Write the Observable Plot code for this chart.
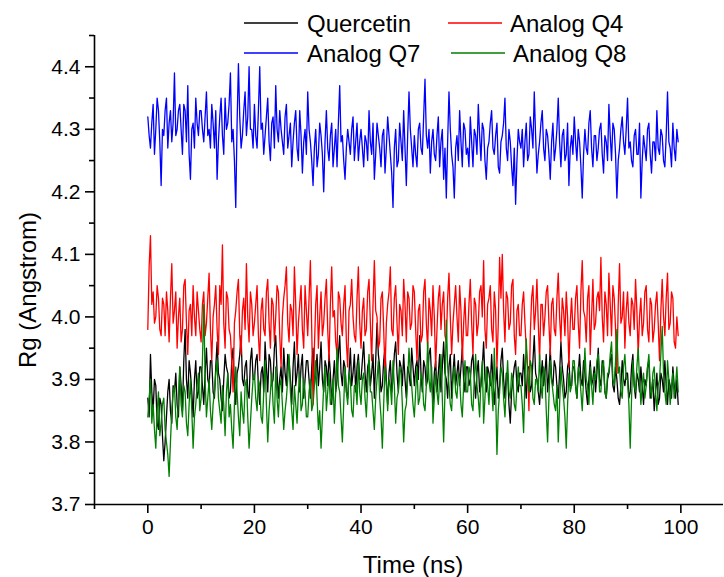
<!DOCTYPE html>
<html><head><meta charset="utf-8">
<script src="https://cdn.jsdelivr.net/npm/d3@7"></script>
<script src="https://cdn.jsdelivr.net/npm/@observablehq/plot@0.6"></script>
<style>
body{margin:0;background:#fff;} #chart{width:724px;height:577px;}
</style>
</head><body><div id="chart"></div>
<script>
const seriesNames = ["Quercetin", "Analog Q4", "Analog Q7", "Analog Q8"];
const seriesColors = ["#000000", "#ff0000", "#0000ff", "#008000"];
const timeStep = 0.25; // ns between samples

const quercetin = [
3.87,3.84,3.94,3.88,3.85,3.90,3.89,3.83,3.82,3.87,3.86,3.81,3.77,3.80,3.84,3.88,3.90,3.85,3.83,3.89,3.88,3.91,3.86,3.84,3.92,3.89,3.85,3.93,3.98,3.90,3.87,3.93,3.91,3.88,3.84,3.90,3.93,3.87,3.88,3.92,
3.92,3.89,3.86,3.91,3.95,3.90,3.89,3.93,3.93,3.88,3.87,3.92,3.96,3.91,3.90,3.87,3.85,3.90,3.94,3.92,3.91,3.87,3.88,3.93,3.95,3.89,3.86,3.91,3.92,3.94,3.97,3.90,3.89,3.92,3.93,3.88,3.87,3.93,3.95,3.90,
3.90,3.93,3.94,3.89,3.86,3.91,3.92,3.88,3.96,3.92,3.88,3.94,3.93,3.89,3.90,3.95,3.97,3.91,3.87,3.90,3.92,3.88,3.95,3.91,3.89,3.94,3.93,3.90,3.86,3.92,3.96,3.89,3.91,3.94,3.88,3.92,3.94,3.87,3.90,3.93,
3.93,3.90,3.87,3.92,3.95,3.89,3.91,3.94,3.89,3.92,3.96,3.90,3.88,3.93,3.92,3.89,3.94,3.91,3.86,3.90,3.93,3.88,3.90,3.94,3.97,3.91,3.89,3.93,3.92,3.88,3.87,3.91,3.95,3.89,3.91,3.94,3.88,3.92,3.94,3.90,
3.90,3.93,3.96,3.91,3.88,3.92,3.93,3.89,3.91,3.94,3.87,3.93,3.99,3.94,3.92,3.88,3.89,3.93,3.95,3.90,3.86,3.91,3.93,3.88,3.90,3.94,3.96,3.91,3.88,3.93,3.92,3.89,3.94,3.90,3.87,3.92,3.91,3.89,3.95,3.92,
3.89,3.92,3.93,3.90,3.97,3.91,3.88,3.93,3.92,3.89,3.90,3.94,3.95,3.90,3.86,3.91,3.93,3.88,3.91,3.94,3.88,3.92,3.96,3.91,3.90,3.87,3.92,3.94,3.87,3.91,3.94,3.89,3.91,3.93,3.89,3.92,3.95,3.90,3.88,3.92,
3.92,3.89,3.90,3.93,3.94,3.90,3.87,3.91,3.93,3.88,3.89,3.92,3.96,3.90,3.88,3.92,3.91,3.89,3.94,3.90,3.86,3.89,3.92,3.87,3.89,3.93,3.95,3.90,3.87,3.91,3.91,3.86,3.83,3.88,3.90,3.92,3.93,3.89,3.88,3.91,
3.91,3.89,3.94,3.90,3.87,3.92,3.92,3.88,3.89,3.93,3.97,3.91,3.90,3.88,3.86,3.90,3.93,3.89,3.91,3.94,3.88,3.91,3.95,3.90,3.89,3.93,3.92,3.89,3.87,3.91,3.96,3.92,3.90,3.87,3.88,3.92,3.93,3.89,3.89,3.92,
3.92,3.89,3.87,3.91,3.94,3.90,3.89,3.93,3.91,3.88,3.86,3.90,3.93,3.89,3.90,3.92,3.88,3.91,3.95,3.90,3.89,3.93,3.92,3.88,3.87,3.90,3.91,3.93,3.94,3.89,3.88,3.92,3.90,3.87,3.86,3.89,3.93,3.90,3.89,3.91,
3.91,3.87,3.88,3.92,3.94,3.89,3.87,3.91,3.90,3.88,3.92,3.89,3.86,3.90,3.89,3.92,3.93,3.87,3.88,3.90,3.85,3.88,3.91,3.86,3.87,3.91,3.90,3.88,3.93,3.89,3.86,3.90,3.89,3.87,3.92,3.89,3.87,3.90,3.86
];
const analogQ4 = [
3.98,4.08,4.13,4.02,4.04,3.99,4.00,4.05,4.03,3.98,3.97,4.03,4.02,3.97,4.04,4.01,3.96,4.03,4.085,3.99,4.01,4.04,3.95,4.00,4.03,3.96,3.98,4.05,4.06,3.99,3.94,4.01,4.02,3.97,4.05,4.00,3.97,4.04,4.01,3.98,
3.96,4.02,4.04,3.97,3.99,4.03,4.07,3.98,3.93,4.00,4.02,4.05,3.98,3.94,4.05,4.02,4.115,3.99,3.95,4.04,4.03,3.98,3.97,3.93,3.88,3.99,4.01,4.04,4.06,3.97,3.94,4.01,4.03,3.98,4.085,4.00,3.96,4.04,4.02,3.97,
3.99,4.02,4.05,3.97,3.93,4.01,4.03,3.98,3.97,4.04,4.06,3.99,3.95,4.03,4.02,3.96,4.00,4.05,4.04,3.97,3.92,4.00,4.03,4.05,4.08,3.99,3.96,4.02,4.01,3.97,4.08,4.02,3.94,3.99,4.02,4.05,3.98,3.95,4.05,4.01,
3.97,4.03,4.09,3.98,3.86,3.95,4.02,4.05,3.95,4.00,4.04,3.97,3.99,4.03,4.06,3.98,3.93,4.02,4.08,4.00,4.01,3.96,3.94,4.04,4.03,3.99,3.97,4.02,4.05,3.96,3.92,4.01,4.02,4.06,4.00,3.97,3.96,4.03,4.08,3.99,
3.95,4.01,4.03,3.97,3.98,4.04,4.06,3.99,3.93,4.02,4.09,4.01,4.00,3.95,3.96,4.03,4.04,3.98,3.91,3.99,4.02,4.04,4.08,3.98,3.97,4.03,4.05,3.99,3.94,4.02,4.01,3.97,4.06,4.02,3.96,4.04,4.03,3.98,3.99,4.05,
4.04,3.98,3.93,4.01,4.02,3.96,3.97,4.04,4.06,3.99,3.95,4.03,4.01,3.97,4.05,4.00,3.92,3.98,4.03,4.05,3.98,4.02,4.04,3.97,3.96,4.03,4.07,4.00,3.94,3.99,4.02,4.05,4.00,3.96,4.05,4.01,3.93,3.99,4.03,3.97,
3.97,4.02,4.06,3.99,3.94,4.03,4.02,3.97,3.99,4.04,4.05,4.00,4.09,3.98,3.95,4.02,4.03,4.05,3.98,3.96,4.04,4.01,3.92,3.99,4.095,4.03,4.10,4.01,3.96,4.04,4.03,3.98,3.99,4.05,4.06,3.97,3.94,4.01,4.02,3.97,
3.97,4.02,4.04,3.99,3.95,3.92,3.85,3.97,4.03,4.05,3.98,4.01,4.06,3.99,3.93,4.02,4.02,3.97,4.00,4.04,4.05,3.99,3.94,4.02,4.03,3.98,3.97,4.03,4.07,4.00,3.96,4.03,4.01,3.97,4.04,4.00,3.92,3.99,4.03,3.98,
3.98,4.03,4.05,3.99,3.95,4.04,4.09,4.01,4.00,3.96,4.03,4.05,3.94,4.00,4.06,3.98,3.99,4.03,4.04,4.01,4.095,4.00,3.96,4.04,4.02,3.97,4.07,4.02,3.97,4.05,4.03,3.98,3.91,4.02,4.085,3.99,4.00,4.04,3.95,4.01,
4.04,3.99,3.97,4.03,4.02,3.98,4.06,4.01,3.94,4.00,4.03,3.97,3.99,4.04,4.05,3.98,3.96,4.03,4.02,3.96,3.98,4.02,4.04,3.99,3.93,4.01,4.06,4.00,3.97,4.03,4.07,3.98,3.99,4.04,4.03,3.96,3.95,4.00,3.97
];
const analogQ7 = [
4.32,4.29,4.27,4.31,4.34,4.26,4.30,4.35,4.33,4.28,4.21,4.30,4.29,4.33,4.35,4.27,4.31,4.33,4.28,4.31,4.39,4.29,4.30,4.33,4.34,4.30,4.26,4.34,4.33,4.28,4.37,4.26,4.22,4.30,4.31,4.27,4.35,4.31,4.29,4.33,
4.33,4.30,4.28,4.32,4.36,4.29,4.30,4.27,4.34,4.31,4.27,4.33,4.22,4.28,4.32,4.35,4.29,4.26,4.35,4.30,4.31,4.34,4.39,4.28,4.30,4.25,4.175,4.31,4.405,4.32,4.27,4.29,4.33,4.36,4.29,4.32,4.40,4.30,4.30,4.27,
4.34,4.29,4.27,4.33,4.40,4.30,4.31,4.26,4.29,4.32,4.35,4.28,4.25,4.31,4.32,4.27,4.37,4.30,4.28,4.33,4.30,4.28,4.26,4.32,4.34,4.27,4.29,4.31,4.24,4.28,4.31,4.33,4.27,4.25,4.33,4.29,4.23,4.28,4.30,4.26,
4.36,4.30,4.28,4.25,4.21,4.27,4.30,4.24,4.26,4.31,4.29,4.26,4.20,4.28,4.33,4.27,4.25,4.29,4.31,4.24,4.27,4.30,4.24,4.31,4.37,4.28,4.29,4.25,4.22,4.27,4.30,4.28,4.26,4.30,4.32,4.25,4.28,4.31,4.25,4.28,
4.30,4.27,4.24,4.29,4.28,4.25,4.33,4.28,4.26,4.31,4.22,4.26,4.31,4.29,4.27,4.24,4.29,4.30,4.23,4.27,4.32,4.29,4.26,4.23,4.175,4.27,4.30,4.24,4.25,4.31,4.28,4.25,4.33,4.27,4.21,4.29,4.36,4.30,4.27,4.24,
4.29,4.26,4.24,4.30,4.31,4.27,4.26,4.32,4.38,4.29,4.27,4.30,4.23,4.28,4.30,4.26,4.25,4.29,4.32,4.24,4.28,4.30,4.22,4.27,4.19,4.28,4.36,4.30,4.26,4.24,4.19,4.27,4.29,4.25,4.33,4.28,4.24,4.31,4.30,4.26,
4.27,4.24,4.32,4.28,4.24,4.30,4.29,4.26,4.34,4.29,4.25,4.31,4.30,4.25,4.22,4.27,4.28,4.31,4.33,4.27,4.26,4.29,4.31,4.24,4.23,4.28,4.29,4.31,4.35,4.27,4.25,4.30,4.28,4.24,4.21,4.27,4.18,4.25,4.30,4.28,
4.27,4.30,4.24,4.28,4.31,4.25,4.26,4.32,4.30,4.27,4.36,4.29,4.23,4.26,4.28,4.31,4.33,4.27,4.25,4.30,4.29,4.26,4.22,4.28,4.31,4.25,4.27,4.30,4.35,4.28,4.24,4.29,4.30,4.25,4.26,4.31,4.21,4.27,4.29,4.26,
4.32,4.28,4.25,4.30,4.28,4.24,4.19,4.26,4.30,4.27,4.26,4.31,4.33,4.27,4.24,4.29,4.29,4.25,4.27,4.30,4.31,4.26,4.23,4.29,4.28,4.25,4.34,4.29,4.25,4.31,4.30,4.26,4.19,4.25,4.27,4.30,4.32,4.28,4.26,4.30,
4.35,4.27,4.28,4.25,4.24,4.29,4.30,4.26,4.26,4.31,4.19,4.25,4.29,4.27,4.25,4.30,4.31,4.26,4.23,4.28,4.28,4.25,4.33,4.27,4.26,4.30,4.29,4.25,4.24,4.29,4.36,4.28,4.27,4.24,4.31,4.27,4.25,4.30,4.28
];
const analogQ8 = [
3.84,3.87,3.90,3.83,3.86,3.82,3.79,3.85,3.88,3.81,3.83,3.86,3.87,3.82,3.80,3.78,3.745,3.80,3.85,3.88,3.89,3.84,3.82,3.87,3.92,3.86,3.84,3.89,3.88,3.83,3.81,3.86,3.90,3.85,3.79,3.84,3.86,3.89,3.91,3.85,
3.87,3.93,4.02,3.90,3.84,3.87,3.90,3.85,3.82,3.86,3.88,3.91,3.93,3.87,3.85,3.83,3.89,3.86,3.81,3.88,3.91,3.84,3.86,3.82,3.79,3.86,3.92,3.88,3.84,3.81,3.88,3.85,3.83,3.89,3.90,3.84,3.79,3.83,3.87,3.90,
3.91,3.87,3.85,3.90,3.89,3.84,3.83,3.88,3.93,3.86,3.80,3.85,3.88,3.91,3.86,3.83,3.92,3.87,3.84,3.89,3.90,3.86,3.82,3.85,3.87,3.90,3.94,3.88,3.85,3.82,3.89,3.86,3.83,3.88,3.91,3.85,3.86,3.90,3.88,3.84,
3.84,3.88,3.90,3.85,3.86,3.89,3.93,3.87,3.82,3.85,3.79,3.84,3.89,3.92,3.85,3.88,3.91,3.86,3.87,3.90,3.83,3.88,3.95,3.89,3.88,3.84,3.80,3.86,3.92,3.88,3.86,3.91,3.90,3.85,3.84,3.89,3.89,3.86,3.93,3.88,
3.86,3.90,3.91,3.87,3.84,3.89,3.94,3.88,3.88,3.85,3.82,3.87,3.90,3.93,3.87,3.84,3.79,3.86,3.92,3.89,3.85,3.90,3.89,3.86,3.93,3.89,3.83,3.87,3.88,3.92,3.91,3.86,3.80,3.85,3.86,3.90,3.95,3.91,3.89,3.86,
3.84,3.88,3.92,3.86,3.87,3.91,3.90,3.86,3.85,3.89,3.96,3.90,3.88,3.92,3.83,3.87,3.91,3.88,3.86,3.90,3.94,3.87,3.80,3.88,3.995,3.92,3.89,3.86,3.85,3.90,3.92,3.88,3.87,3.91,3.90,3.86,3.84,3.89,3.93,3.88,
3.88,3.92,3.91,3.86,3.85,3.90,3.94,3.89,3.87,3.84,3.90,3.93,3.83,3.87,3.92,3.89,3.86,3.91,3.89,3.85,3.95,3.88,3.78,3.85,3.88,3.92,3.91,3.87,3.84,3.89,3.93,3.88,3.87,3.91,3.90,3.86,3.85,3.89,3.92,3.89,
3.89,3.86,3.815,3.90,3.965,3.91,3.88,3.93,3.92,3.87,3.86,3.90,3.90,3.88,3.94,3.89,3.87,3.92,3.91,3.85,3.80,3.87,3.93,3.90,3.88,3.86,3.85,3.89,3.80,3.86,3.92,3.89,3.87,3.84,3.79,3.86,3.91,3.88,3.89,3.93,
3.93,3.89,3.87,3.92,3.91,3.88,3.85,3.90,3.95,3.90,3.89,3.86,3.92,3.89,3.86,3.91,3.90,3.93,3.94,3.88,3.88,3.92,3.93,3.88,3.87,3.91,3.91,3.94,3.96,3.90,3.89,3.93,3.98,3.91,3.92,3.88,3.87,3.92,3.94,3.90,
3.90,3.86,3.79,3.87,3.93,3.89,3.88,3.92,3.95,3.90,3.86,3.89,3.91,3.87,3.89,3.92,3.94,3.89,3.87,3.91,3.92,3.88,3.85,3.89,3.90,3.94,3.985,3.91,3.88,3.86,3.93,3.90,3.86,3.89,3.91,3.87,3.89,3.92,3.88
];

const xTicks = [0, 20, 40, 60, 80, 100];
const xMinorTicks = [-10, 10, 30, 50, 70, 90];
const yTicks = [3.7, 3.8, 3.9, 4.0, 4.1, 4.2, 4.3, 4.4];
const yMinorTicks = [3.75, 3.85, 3.95, 4.05, 4.15, 4.25, 4.35, 4.45];
const xLabel = "Time (ns)";
const yLabel = "Rg (Angstrom)";

const seriesValues = [quercetin, analogQ4, analogQ7, analogQ8];
const data = seriesValues.flatMap((vals, i) =>
  vals.map((v, j) => ({t: j * timeStep, rg: v, s: seriesNames[i]})));

const font = "'Liberation Sans', Arial, sans-serif";

const plot = Plot.plot({
  width: 724,
  height: 577,
  marginLeft: 94,
  marginRight: 1,
  marginTop: 35,
  marginBottom: 73,
  style: {fontFamily: font, fontSize: "21px", color: "#000", background: "#fff"},
  x: {domain: [-10, 108], axis: null, label: null},
  y: {domain: [3.7, 4.45], axis: null, label: null},
  color: {domain: seriesNames, range: seriesColors},
  marks: [
    Plot.line(data, {x: "t", y: "rg", z: "s", stroke: "s", strokeWidth: 1.3}),
    Plot.ruleX([-10], {y1: 3.7, y2: 4.45, strokeWidth: 1.6}),
    Plot.ruleY([3.7], {x1: -10, x2: 108, strokeWidth: 1.6}),
    Plot.axisX(xTicks, {tickSize: 9, tickPadding: 6, strokeWidth: 1.6, fontSize: 21, label: null}),
    Plot.axisX(xMinorTicks, {tickSize: 5, strokeWidth: 1.6, tickFormat: () => "", label: null}),
    Plot.axisY(yTicks, {tickSize: 9, tickPadding: 5, strokeWidth: 1.6, fontSize: 21, tickFormat: d => d.toFixed(1), label: null}),
    Plot.axisY(yMinorTicks, {tickSize: 5, strokeWidth: 1.6, tickFormat: () => "", label: null}),
    Plot.text([xLabel], {frameAnchor: "bottom", textAnchor: "middle", lineAnchor: "middle", dx: 4, dy: 61, fontSize: 24}),
    Plot.text([yLabel], {frameAnchor: "left", textAnchor: "middle", lineAnchor: "middle", rotate: -90, dx: -66, dy: 20, fontSize: 24})
  ]
});
document.getElementById("chart").appendChild(plot);

const svg = d3.select(plot);
// make sure numeric tick labels use the intended size
svg.selectAll("text").filter(function() { return /^[0-9.]+$/.test(this.textContent); })
  .style("font-size", "21px");

// legend (two rows, drawn over the plot area)
const legendItems = [
  {name: seriesNames[0], color: seriesColors[0], x1: 244, x2: 298, tx: 307, y: 23},
  {name: seriesNames[1], color: seriesColors[1], x1: 448, x2: 502, tx: 510, y: 23},
  {name: seriesNames[2], color: seriesColors[2], x1: 244, x2: 298, tx: 307, y: 53},
  {name: seriesNames[3], color: seriesColors[3], x1: 451, x2: 505, tx: 513, y: 53}
];
const lg = svg.append("g");
for (const it of legendItems) {
  lg.append("line").attr("x1", it.x1).attr("x2", it.x2).attr("y1", it.y).attr("y2", it.y)
    .attr("stroke", it.color).attr("stroke-width", 1.5);
  lg.append("text").attr("x", it.tx).attr("y", it.y).attr("dy", "0.36em")
    .attr("text-anchor", "start")
    .style("font-family", font).style("font-size", "24px")
    .attr("fill", "#000").text(it.name);
}
</script>
</body></html>
